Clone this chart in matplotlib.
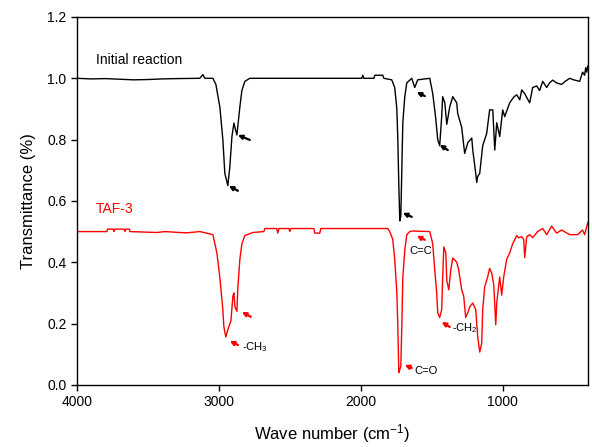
import matplotlib
matplotlib.use("Agg")
import matplotlib.pyplot as plt

plt.rcParams['font.family'] = ['Liberation Sans', 'DejaVu Sans']
plt.rcParams['mathtext.default'] = 'regular'

# Initial reaction spectrum (wavenumber, transmittance)
wn_initial = [4000, 3900, 3800, 3700, 3600, 3500, 3400, 3300, 3134, 3113, 3099, 3042,
              3021, 2993, 2972, 2958, 2937, 2923, 2908, 2894, 2887, 2873, 2852, 2838,
              2817, 2782, 2400, 2007, 1993, 1986, 1979, 1908, 1901, 1845, 1838, 1782,
              1761, 1746, 1739, 1732, 1725, 1718, 1711, 1704, 1690, 1676, 1655, 1641,
              1620, 1599, 1514, 1493, 1472, 1458, 1444, 1430, 1423, 1408, 1394, 1373,
              1352, 1324, 1317, 1289, 1268, 1246, 1218, 1211, 1190, 1183, 1176, 1162,
              1141, 1113, 1092, 1070, 1056, 1042, 1021, 1000, 986, 951, 920, 901, 880, 866, 845,
              810, 789, 760, 740, 718, 690, 670, 648, 620, 585, 560, 528, 500, 458, 437, 423, 415, 408, 400]
t_initial = [1.0, 0.998, 0.999, 0.997, 0.995, 0.996, 0.998, 0.999, 1.0, 1.012, 1.0, 1.0,
             0.98, 0.906, 0.80, 0.69, 0.65, 0.71, 0.81, 0.854, 0.84, 0.815, 0.907, 0.96,
             0.99, 1.0, 1.0, 1.0, 1.0, 1.01, 1.0, 1.0, 1.01, 1.01, 1.0, 0.995,
             0.97, 0.90, 0.80, 0.65, 0.535, 0.55, 0.70, 0.854, 0.94, 0.985, 0.994, 1.0,
             0.97, 0.995, 1.0, 0.95, 0.87, 0.80, 0.78, 0.875, 0.94, 0.92, 0.85, 0.907,
             0.94, 0.92, 0.885, 0.84, 0.755, 0.79, 0.805, 0.766, 0.69, 0.66, 0.68, 0.69,
             0.78, 0.82, 0.897, 0.897, 0.766, 0.855, 0.81, 0.897, 0.875, 0.92, 0.94, 0.946, 0.93, 0.962, 0.95,
             0.92, 0.97, 0.975, 0.96, 0.99, 0.97, 0.985, 0.994, 0.985, 0.98, 0.99, 1.0, 0.995, 0.99, 1.02, 1.01, 1.035, 1.02, 1.04]

# TAF-3 spectrum (wavenumber, transmittance)
wn_taf = [4000, 3789, 3785, 3745, 3739, 3733, 3668, 3662, 3656, 3630, 3627, 3437, 3380,
          3275, 3225, 3134, 3042, 3014, 2993, 2972, 2965, 2951, 2937, 2915, 2901, 2894,
          2887, 2873, 2866, 2852, 2838, 2817, 2761, 2683, 2676, 2592, 2585, 2577, 2507,
          2500, 2493, 2331, 2324, 2289, 2282, 1810, 1796, 1775, 1761, 1746, 1739, 1732,
          1725, 1718, 1711, 1704, 1690, 1676, 1655, 1634, 1514, 1493, 1479, 1465, 1458,
          1444, 1430, 1423, 1415, 1401, 1394, 1380, 1366, 1352, 1324, 1310, 1289, 1275,
          1261, 1246, 1232, 1211, 1190, 1176, 1162, 1148, 1141, 1127, 1106, 1092, 1077,
          1063, 1049, 1042, 1021, 1007, 993, 972, 951, 930, 901, 887, 866, 852, 845, 831,
          810, 789, 754, 718, 690, 655, 620, 585, 528, 472, 437, 423, 400]
t_taf = [0.5, 0.5, 0.508, 0.508, 0.5, 0.508, 0.508, 0.5, 0.508, 0.508, 0.5, 0.497, 0.5,
         0.497, 0.496, 0.5, 0.49, 0.43, 0.35, 0.245, 0.19, 0.156, 0.18, 0.21, 0.29, 0.30,
         0.255, 0.24, 0.32, 0.41, 0.46, 0.487, 0.497, 0.5, 0.51, 0.51, 0.495, 0.51, 0.51,
         0.5, 0.51, 0.51, 0.495, 0.495, 0.51, 0.51, 0.5, 0.475, 0.41, 0.30, 0.19, 0.04,
         0.05, 0.06, 0.19, 0.35, 0.44, 0.49, 0.5, 0.502, 0.5, 0.46, 0.375, 0.30, 0.235,
         0.22, 0.245, 0.35, 0.45, 0.43, 0.34, 0.31, 0.375, 0.414, 0.40, 0.375, 0.31, 0.29,
         0.22, 0.235, 0.255, 0.267, 0.245, 0.157, 0.107, 0.136, 0.245, 0.32, 0.352, 0.38, 0.364,
         0.326, 0.196, 0.267, 0.352, 0.293, 0.352, 0.41, 0.43, 0.46, 0.487, 0.48, 0.483, 0.475, 0.415, 0.483,
         0.49, 0.48, 0.5, 0.51, 0.49, 0.518, 0.495, 0.505, 0.49, 0.49, 0.505, 0.49, 0.53]

x_ticks = [4000, 3000, 2000, 1000]
y_ticks = [0.0, 0.2, 0.4, 0.6, 0.8, 1.0, 1.2]

fig = plt.figure(figsize=(5.92, 4.47), dpi=100)
ax = fig.add_axes([0.130, 0.139, 0.863, 0.823])

ax.plot(wn_initial, t_initial, color='black', lw=1.0)
ax.plot(wn_taf, t_taf, color='red', lw=1.0)

ax.set_xlim(4000, 400)
ax.set_ylim(0, 1.2)
ax.set_xticks(x_ticks)
ax.set_xticklabels([str(v) for v in x_ticks])
ax.set_yticks(y_ticks)
ax.set_yticklabels([f"{v:.1f}" for v in y_ticks])
ax.tick_params(direction='out', length=4, width=1, labelsize=10)
for s in ax.spines.values():
    s.set_linewidth(1.0)

ax.set_xlabel("Wave number (cm$^{-1}$)", fontsize=12, labelpad=9)
ax.set_ylabel("Transmittance (%)", fontsize=12, labelpad=8)

ax.text(3866, 1.06, "Initial reaction", color='black', fontsize=10, ha='left', va='center')
ax.text(3866, 0.574, "TAF-3", color='red', fontsize=10, ha='left', va='center')

def arrow(head, tail, color):
    ax.annotate("", xy=head, xytext=tail,
                arrowprops=dict(arrowstyle='-|>', color=color, lw=1.6,
                                mutation_scale=6, shrinkA=0, shrinkB=0))

# black arrows
arrow((2930, 0.649), (2866, 0.633), 'black')
arrow((2866, 0.815), (2782, 0.799), 'black')
arrow((1606, 0.955), (1549, 0.942), 'black')
arrow((1444, 0.783), (1387, 0.766), 'black')
arrow((1704, 0.561), (1641, 0.548), 'black')

# red arrows with labels
arrow((2923, 0.143), (2866, 0.130), 'red')
arrow((2838, 0.238), (2775, 0.222), 'red')
arrow((1690, 0.065), (1641, 0.055), 'red')
arrow((1606, 0.486), (1549, 0.473), 'red')
arrow((1430, 0.205), (1373, 0.189), 'red')

ax.text(2838, 0.124, "-CH$_3$", fontsize=8, ha='left', va='center')
ax.text(1620, 0.046, "C=O", fontsize=8, ha='left', va='center')
ax.text(1655, 0.437, "C=C", fontsize=8, ha='left', va='center')
ax.text(1359, 0.186, "-CH$_2$", fontsize=8, ha='left', va='center')

fig.savefig("out.png", dpi=100)
